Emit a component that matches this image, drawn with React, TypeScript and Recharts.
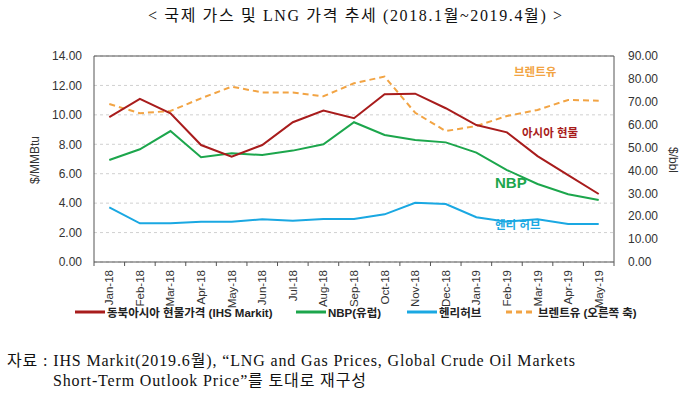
// @ts-nocheck
import { LineChart, Line, XAxis, YAxis, CartesianGrid, ReferenceLine } from 'recharts'

const months = ['Jan-18', 'Feb-18', 'Mar-18', 'Apr-18', 'May-18', 'Jun-18', 'Jul-18', 'Aug-18', 'Sep-18', 'Oct-18', 'Nov-18', 'Dec-18', 'Jan-19', 'Feb-19', 'Mar-19', 'Apr-19', 'May-19']
const asiaSpot = [9.84, 11.08, 10.1, 7.95, 7.16, 7.95, 9.5, 10.29, 9.77, 11.4, 11.44, 10.45, 9.31, 8.81, 7.2, 5.91, 4.62]
const nbp = [6.93, 7.66, 8.9, 7.12, 7.39, 7.27, 7.57, 8.0, 9.5, 8.63, 8.29, 8.13, 7.43, 6.25, 5.3, 4.6, 4.21]
const henryHub = [3.72, 2.63, 2.63, 2.74, 2.74, 2.9, 2.81, 2.92, 2.92, 3.24, 4.03, 3.94, 3.04, 2.74, 2.9, 2.58, 2.58]
const brent = [69.0, 65.0, 66.0, 71.5, 76.6, 74.1, 74.1, 72.4, 78.1, 81.0, 65.2, 57.2, 59.4, 63.8, 66.4, 70.8, 70.5]
const leftTicks = [0, 2, 4, 6, 8, 10, 12, 14]
const rightTicks = [0, 10, 20, 30, 40, 50, 60, 70, 80, 90]

const data = months.map((m, i) => ({ m, asia: asiaSpot[i], nbp: nbp[i], hh: henryHub[i], brent: brent[i] }))

const SANS = '"Liberation Sans", Arial, "Noto Sans CJK KR", sans-serif'
const SERIF = '"Liberation Serif", "DejaVu Serif", "Noto Sans CJK KR", serif'
const BAND = 520 / months.length

const MonthTick = ({ x, y, payload, index }) => (
  <g>
    <line x1={x - BAND / 2} x2={x - BAND / 2} y1={y - 8} y2={y - 4} stroke="#555" />
    {index === months.length - 1 && <line x1={x + BAND / 2} x2={x + BAND / 2} y1={y - 8} y2={y - 4} stroke="#555" />}
    <text x={x} y={y} transform={`rotate(-90 ${x} ${y})`} dy={4} textAnchor="end" fontSize={11.5} fill="#333" fontFamily={SANS}>
      {payload.value}
    </text>
  </g>
)

const legendItems = [
  { label: '동북아시아 현물가격 (IHS Markit)', color: '#a81c1c', dash: false, x: 75 },
  { label: 'NBP(유럽)', color: '#1ca64c', dash: false, x: 296 },
  { label: '헨리허브', color: '#1aa8e2', dash: false, x: 407 },
  { label: '브렌트유 (오른쪽 축)', color: '#f2a444', dash: true, x: 506 },
]

export default function App() {
  return (
    <div style={{ position: 'absolute', left: 0, top: 0, width: 691, height: 394, background: '#fff', overflow: 'hidden' }}>
      <svg width={691} height={394} style={{ position: 'absolute', left: 0, top: 0 }}>
        <text x={148} y={21} fontFamily={SERIF} fontSize={16} fill="#111" textLength={414} lengthAdjust="spacing">
          {'< 국제 가스 및 LNG 가격 추세 (2018.1월~2019.4월) >'}
        </text>
        <text x={7} y={366} fontFamily={SERIF} fontSize={16} fill="#111" textLength={568} lengthAdjust="spacing">
          {'자료 : IHS Markit(2019.6월), “LNG and Gas Prices, Global Crude Oil Markets'}
        </text>
        <text x={53} y={386} fontFamily={SERIF} fontSize={16} fill="#111" textLength={313} lengthAdjust="spacing">
          {'Short-Term Outlook Price”를 토대로 재구성'}
        </text>
      </svg>
      <div style={{ position: 'absolute', left: 0, top: 0 }}>
        <LineChart width={691} height={320} data={data} margin={{ top: 56, right: 17, bottom: 8, left: 34 }}>
          <CartesianGrid vertical={false} stroke="#d0d0d0" strokeDasharray="3 3" yAxisId="l" />
          <XAxis dataKey="m" height={50} tick={<MonthTick />} tickLine={false} stroke="#555" interval={0} padding={{ left: BAND / 2, right: BAND / 2 }} />
          <YAxis yAxisId="l" domain={[0, 14]} ticks={leftTicks} width={60} tickLine={false} tickMargin={6} stroke="#555"
            tick={{ fontSize: 12, fill: '#333', fontFamily: SANS }} tickFormatter={(v) => v.toFixed(2)} />
          <YAxis yAxisId="r" orientation="right" domain={[0, 90]} ticks={rightTicks} width={60} tickLine={false} tickMargin={8} stroke="#555"
            tick={{ fontSize: 12, fill: '#333', fontFamily: SANS, textAnchor: 'start' }} tickFormatter={(v) => v.toFixed(2)} />
          <ReferenceLine yAxisId="l" y={14} stroke="#555" />
          <Line yAxisId="r" dataKey="brent" stroke="#f2a444" strokeWidth={2} strokeDasharray="6 4" dot={false} isAnimationActive={false} />
          <Line yAxisId="l" dataKey="hh" stroke="#1aa8e2" strokeWidth={2} dot={false} isAnimationActive={false} />
          <Line yAxisId="l" dataKey="nbp" stroke="#1ca64c" strokeWidth={2} dot={false} isAnimationActive={false} />
          <Line yAxisId="l" dataKey="asia" stroke="#a81c1c" strokeWidth={2} dot={false} isAnimationActive={false} />
        </LineChart>
      </div>
      <div style={{ position: 'absolute', left: 35, top: 160, transform: 'translate(-50%, -50%) rotate(-90deg)', fontFamily: SANS, fontSize: 12, color: '#333', whiteSpace: 'nowrap' }}>$/MMBtu</div>
      <div style={{ position: 'absolute', left: 673, top: 160, transform: 'translate(-50%, -50%) rotate(90deg)', fontFamily: SANS, fontSize: 12, color: '#333', whiteSpace: 'nowrap' }}>$/bbl</div>
      <div style={{ position: 'absolute', left: 514, top: 63, fontFamily: SANS, fontSize: 11.5, fontWeight: 'bold', color: '#f2a444' }}>브렌트유</div>
      <div style={{ position: 'absolute', left: 522, top: 124, fontFamily: SANS, fontSize: 11.5, fontWeight: 'bold', color: '#a81c1c' }}>아시아 현물</div>
      <div style={{ position: 'absolute', left: 495, top: 174, fontFamily: SANS, fontSize: 15, fontWeight: 'bold', color: '#1ca64c' }}>NBP</div>
      <div style={{ position: 'absolute', left: 495, top: 216, fontFamily: SANS, fontSize: 11.5, fontWeight: 'bold', color: '#1aa8e2' }}>헨리 허브</div>
      {legendItems.map((it) => (
        <div key={it.label} style={{ position: 'absolute', left: it.x, top: 304, display: 'flex', alignItems: 'center', fontFamily: SANS, fontSize: 11.5, fontWeight: 'bold', color: '#222', whiteSpace: 'nowrap' }}>
          <svg width={30} height={4} style={{ marginRight: 2 }}>
            <line x1={0} x2={30} y1={2} y2={2} stroke={it.color} strokeWidth={3} strokeDasharray={it.dash ? '6 4' : undefined} />
          </svg>
          {it.label}
        </div>
      ))}
    </div>
  )
}
